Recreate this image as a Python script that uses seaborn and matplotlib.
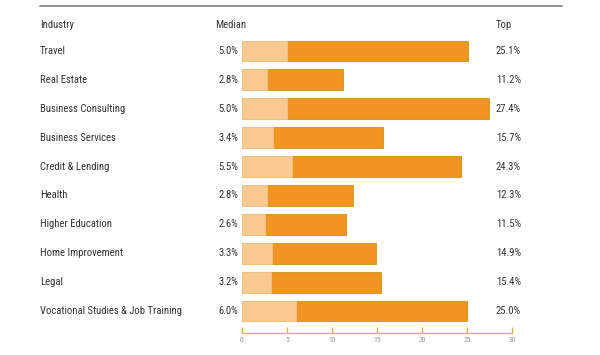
import matplotlib
matplotlib.use("Agg")
import matplotlib.pyplot as plt
import matplotlib.transforms as mtransforms
import seaborn as sns
import pandas as pd

industries = ["Travel", "Real Estate", "Business Consulting", "Business Services",
              "Credit & Lending", "Health", "Higher Education", "Home Improvement",
              "Legal", "Vocational Studies & Job Training"]
median = [5.0, 2.8, 5.0, 3.4, 5.5, 2.8, 2.6, 3.3, 3.2, 6.0]
top = [25.1, 11.2, 27.4, 15.7, 24.3, 12.3, 11.5, 14.9, 15.4, 25.0]
ticks = [0, 5, 10, 15, 20, 25, 30]

df = pd.DataFrame({"Industry": industries, "Median": median, "Top": top})

sns.set_style("white")
plt.rcParams['font.family'] = ['Roboto Condensed', 'DejaVu Sans']

W, H = 600, 355
fig = plt.figure(figsize=(6, 3.55), dpi=100)
ax = fig.add_axes([242 / W, 1 - 333 / H, 270 / W, (333 - 36.5) / H])

# orange bar up to the top value, light bar up to the median on top of it
sns.barplot(data=df, x="Top", y="Industry", color="#f39421", saturation=1,
            edgecolor="#c9a22e", linewidth=0.8, width=0.72, ax=ax)
sns.barplot(data=df, x="Median", y="Industry", color="#f9c98f", saturation=1,
            edgecolor="#ecc88e", linewidth=0.6, width=0.72, ax=ax)

ax.set_xlim(0, 30)
ax.set_ylim(9.76, -0.5)
ax.set_xticks(ticks)
ax.set_yticks([])
ax.set_xlabel("")
ax.set_ylabel("")
for s in ["top", "right", "left"]:
    ax.spines[s].set_visible(False)
ax.spines["bottom"].set_color("#e3b14e")
ax.spines["bottom"].set_linewidth(1)
ax.tick_params(axis="x", direction="in", length=4.5, width=1, color="#e3b14e",
               labelsize=5.5, labelcolor="#999999", pad=3)
ax.tick_params(axis="x", bottom=True)

tr = mtransforms.blended_transform_factory(fig.transFigure, ax.transData)
txt = "#333333"
fs = 7.7
for i, name in enumerate(industries):
    ax.text(40 / W, i, name, transform=tr, ha="left", va="center", fontsize=fs, color=txt)
    ax.text(238 / W, i, f"{median[i]:.1f}%", transform=tr, ha="right", va="center",
            fontsize=fs, color=txt)
    ax.text(496 / W, i, f"{top[i]:.1f}%", transform=tr, ha="left", va="center",
            fontsize=fs, color=txt)

fig.text(40 / W, 1 - 25 / H, "Industry", ha="left", va="center", fontsize=fs, color=txt)
fig.text(215 / W, 1 - 25 / H, "Median", ha="left", va="center", fontsize=fs, color=txt)
fig.text(496 / W, 1 - 25 / H, "Top", ha="left", va="center", fontsize=fs, color=txt)

fig.add_artist(plt.Line2D([40 / W, 562 / W], [1 - 6 / H, 1 - 6 / H], color="#888888",
                          linewidth=1.3, transform=fig.transFigure))

fig.savefig("out.png", dpi=100)
